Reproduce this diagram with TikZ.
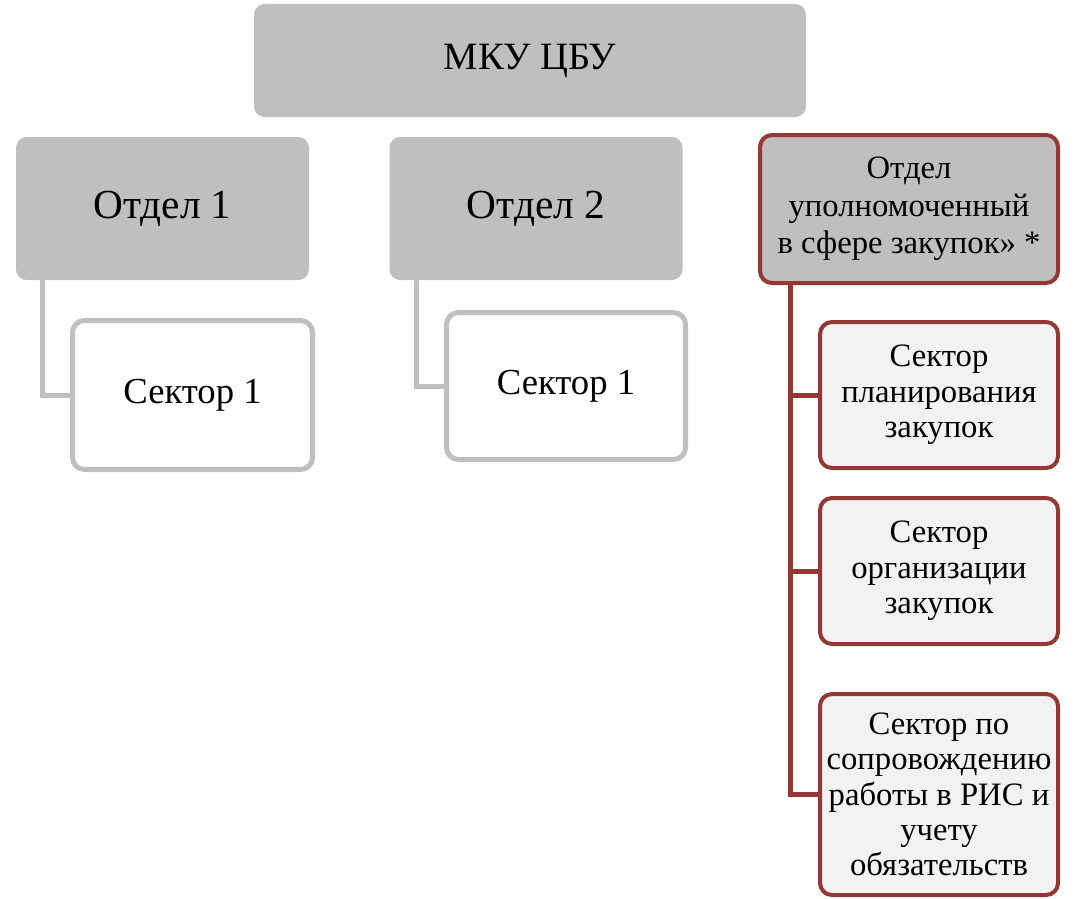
\documentclass[tikz,border=0pt]{standalone}
\usepackage{fontspec}
\setmainfont{Liberation Serif}
\usepackage{tikz}
\usetikzlibrary{positioning}

\definecolor{boxgray}{HTML}{BFBFBF}
\definecolor{boxred}{HTML}{953735}
\definecolor{boxlight}{HTML}{F2F2F2}

\begin{document}
\begin{tikzpicture}[x=0.75pt,y=-0.75pt,
    headbox/.style={rectangle, rounded corners=8pt, fill=boxgray, align=center},
    subbox/.style={rectangle, rounded corners=9pt, draw=boxgray, line width=3.75pt, fill=white, align=center},
    redhead/.style={rectangle, rounded corners=9pt, draw=boxred, line width=3pt, fill=boxgray, align=center,
        font=\fontsize{24.5}{28}\selectfont},
    redbox/.style={rectangle, rounded corners=9pt, draw=boxred, line width=3pt, fill=boxlight, align=center,
        minimum width=178.5pt, font=\fontsize{24.5}{26.5}\selectfont},
    grayline/.style={draw=boxgray, line width=3.75pt},
    redline/.style={draw=boxred, line width=3.75pt}]
    \useasboundingbox (0,0) rectangle (1074,899);

    % Top box
    \node[headbox, minimum width=414pt, minimum height=84.75pt, font=\fontsize{29}{33}\selectfont]
        (mku) at (530,60.5) {МКУ ЦБУ};

    % Departments
    \node[headbox, minimum width=219.75pt, minimum height=107.25pt, font=\fontsize{31}{35}\selectfont]
        (otdA) at (162.5,208.5) {Отдел 1};
    \node[headbox, minimum width=219.75pt, minimum height=107.25pt, font=\fontsize{31}{35}\selectfont]
        (otdB) at (536,208.5) {Отдел 2};
    \node[redhead, minimum width=223.5pt, minimum height=111pt]
        (otdC) at (909,209) {Отдел\\уполномоченный\\в сфере закупок» *};

    % Sectors
    \node[subbox, minimum width=180pt, minimum height=111.75pt, font=\fontsize{27.5}{31}\selectfont]
        (sekA) at (192.5,395) {Сектор 1};
    \node[subbox, minimum width=179.25pt, minimum height=110.25pt, font=\fontsize{27.5}{31}\selectfont]
        (sekB) at (566,386) {Сектор 1};
    \node[redbox, minimum height=109.5pt] (plan) at (939,395) {Сектор\\планирования\\закупок};
    \node[redbox, minimum height=109.5pt] (org) at (939,571) {Сектор\\организации\\закупок};
    \node[redbox, minimum height=150.75pt] (ris) at (939,794.5) {Сектор по\\сопровождению\\работы в РИС и\\учету\\обязательств};

    % Connectors
    \draw[grayline] ([xshift=20.25pt]otdA.south west) |- (sekA.west);
    \draw[grayline] ([xshift=20.25pt]otdB.south west) |- (sekB.west);
    \coordinate (rtop) at ([xshift=24pt]otdC.south west);
    \draw[redline] (rtop) |- (plan.west);
    \draw[redline] (rtop) |- (org.west);
    \draw[redline] (rtop) |- (ris.west);
\end{tikzpicture}
\end{document}
